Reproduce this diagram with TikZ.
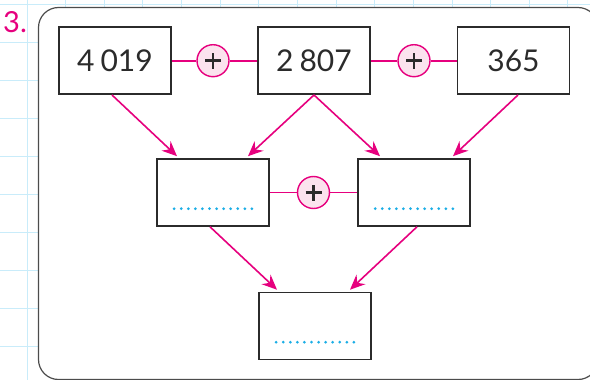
\documentclass[tikz,border=0pt]{standalone}
\usepackage{fontspec}
\setmainfont{Lato}
\usetikzlibrary{arrows.meta}
\definecolor{pinkc}{HTML}{E6007E}
\definecolor{pinkl}{HTML}{FBE3EE}
\definecolor{gridc}{HTML}{C9ECFA}
\definecolor{dotc}{HTML}{1BAEE6}
\definecolor{boxc}{HTML}{2B2B2B}
\tikzset{
  numbox/.style={draw=boxc, line width=1.6pt, fill=white, minimum width=112pt, minimum height=67pt, inner sep=0pt,
     font=\fontsize{30}{30}\selectfont, text=boxc},
  plusc/.style={circle, draw=pinkc, fill=pinkl, line width=1.4pt, minimum size=32pt, inner sep=0pt},
  plussign/.style={line width=2.8pt, draw=boxc},
  link/.style={draw=pinkc, line width=1.6pt},
  arr/.style={draw=pinkc, line width=1.6pt, -{Stealth[length=15pt,width=13pt,inset=5pt]}},
  dots/.style={draw=dotc, line width=3pt, line cap=round, dash pattern=on 0pt off 7.06pt},
  gridl/.style={draw=gridc, line width=1pt}
}
\begin{document}
\begin{tikzpicture}[x=1pt,y=-1pt]
\useasboundingbox (0,0) rectangle (590,380);
\clip (0,0) rectangle (590,380);
% grid
\foreach \k in {0,...,9} {\draw[gridl] (0,{4+38*\k}) -- (590,{4+38*\k});}
\foreach \k in {0,...,14} {\draw[gridl] ({27+38.64*\k},0) -- ({27+38.64*\k},380);}
% frame
\draw[draw=black!70, line width=1.2pt, fill=white, rounded corners=20pt] (38.5,7.5) rectangle (598,379.5);
% number label
\node[anchor=base west, inner sep=0pt, text=pinkc, font=\fontsize{29}{29}\selectfont] (lbl) at (3,32) {3.};
% boxes
\node[numbox] (b1) at (115,60.7) {4\hspace{0.2em}019};
\node[numbox] (b2) at (314,60.7) {2\hspace{0.2em}807};
\node[numbox] (b3) at (513.5,60.7) {365};
\node[numbox] (m1) at (213,192.5) {};
\node[numbox] (m2) at (414,192.5) {};
\node[numbox] (r) at (315,326) {};
% plus circles
\node[plusc] (p1) at (213,60.7) {};
\node[plusc] (p2) at (414,60.7) {};
\node[plusc] (p3) at (313.5,192.5) {};
\foreach \p in {p1,p2,p3} {
  \draw[plussign] ([xshift=-8pt]\p.center) -- ([xshift=8pt]\p.center);
  \draw[plussign] ([yshift=-8pt]\p.center) -- ([yshift=8pt]\p.center);
}
% links
\draw[link] (b1.east) -- (p1.west);
\draw[link] (p1.east) -- (b2.west);
\draw[link] (b2.east) -- (p2.west);
\draw[link] (p2.east) -- (b3.west);
\draw[link] (m1.east) -- (p3.west);
\draw[link] (p3.east) -- (m2.west);
% arrows
\draw[arr] ([xshift=-3pt]b1.south) -- ([xshift=-36pt,yshift=2pt]m1.north);
\draw[arr] (b2.south) -- ([xshift=35pt,yshift=2pt]m1.north);
\draw[arr] (b2.south) -- ([xshift=-34pt,yshift=2pt]m2.north);
\draw[arr] ([xshift=4.5pt]b3.south) -- ([xshift=39pt,yshift=2pt]m2.north);
\draw[arr] ([xshift=-3pt]m1.south) -- ([xshift=-38pt,yshift=2pt]r.north);
\draw[arr] ([xshift=3pt]m2.south) -- ([xshift=35pt,yshift=2pt]r.north);
% dotted answer lines
\foreach \b in {m1,m2,r} {
  \draw[dots] ([xshift=-38.8pt,yshift=-16.2pt]\b.center) -- ([xshift=39.5pt,yshift=-16.2pt]\b.center);
}
\end{tikzpicture}
\end{document}
